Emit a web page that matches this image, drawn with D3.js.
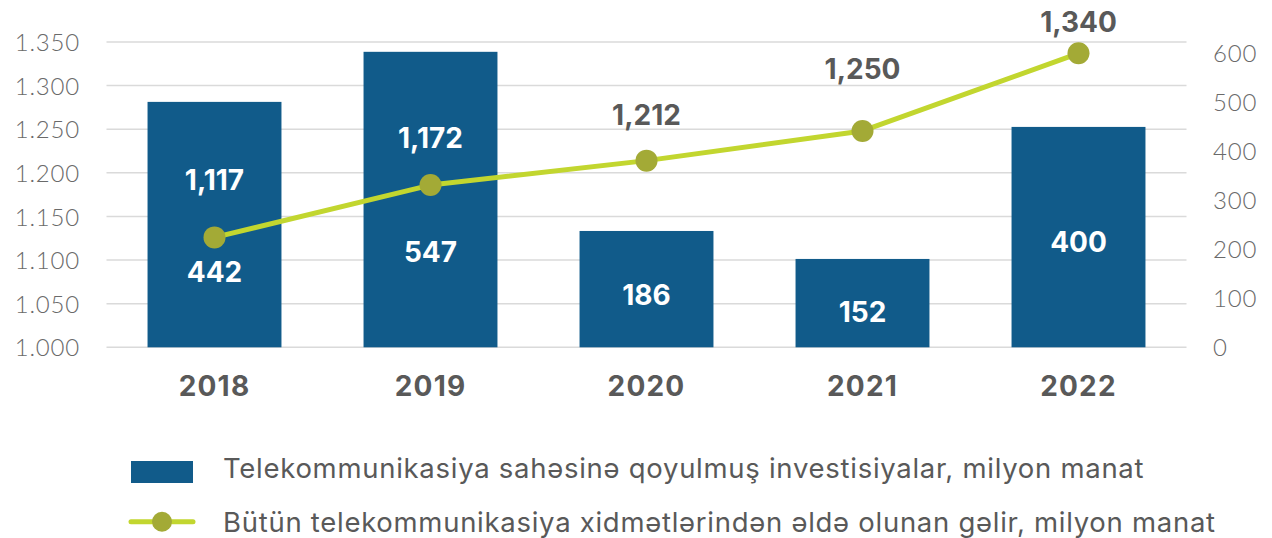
<!DOCTYPE html>
<html>
<head>
<meta charset="utf-8">
<script src="https://cdn.jsdelivr.net/npm/d3@7"></script>
<style>
  html, body { margin: 0; padding: 0; background: #ffffff; }
  svg { display: block; font-family: Inter, "DejaVu Sans", sans-serif; }
</style>
</head>
<body>
<svg id="chart" width="1272" height="538"></svg>
<script>
// ---------------- data ----------------
const years = ["2018", "2019", "2020", "2021", "2022"];
// investments (bars, right axis) – heights as drawn, and their printed labels
const investValues = [500, 602, 237, 180, 449];
const investLabels = ["442", "547", "186", "152", "400"];
// revenue (line, left axis) – positions as drawn, and their printed labels
const revenueValues = [1.126, 1.186, 1.214, 1.248, 1.337];
const revenueLabels = ["1,117", "1,172", "1,212", "1,250", "1,340"];
const leftTicks = [1.000, 1.050, 1.100, 1.150, 1.200, 1.250, 1.300, 1.350];
const rightTicks = [0, 100, 200, 300, 400, 500, 600];
const legendLabels = [
  "Telekommunikasiya sahəsinə qoyulmuş investisiyalar, milyon manat",
  "Bütün telekommunikasiya xidmətlərindən əldə olunan gəlir, milyon manat"
];

// ---------------- layout / style ----------------
const plot = { left: 106.5, right: 1186.5, top: 42, bottom: 347.3 };
const barColor = "#115b8a";
const lineColor = "#c2d62f";
const markerColor = "#a3aa36";
const darkText = "#595959";
const tickText = "#6a6a6a";
const gridColor = "#dadada";
const tickFont = "Lato, 'DejaVu Sans', sans-serif";
const barLabelShift = [47, 52, 6, 8.5, 4.5];
const lineLabelShift = [-57.4, -46.7, -45.6, -62.5, -31.3];

const svg = d3.select("#chart");

const x = d3.scaleBand().domain(years)
  .range([plot.left, plot.right]).paddingInner(0.38).paddingOuter(0.19);
const yL = d3.scaleLinear().domain([1.0, 1.35]).range([plot.bottom, plot.top]);
const yR = d3.scaleLinear().domain([0, 622]).range([plot.bottom, plot.top]);
const cx = d => x(d) + x.bandwidth() / 2;

// gridlines
svg.append("g").selectAll("line").data(leftTicks).join("line")
  .attr("x1", plot.left).attr("x2", plot.right)
  .attr("y1", d => yL(d)).attr("y2", d => yL(d))
  .attr("stroke", gridColor).attr("stroke-width", 1.5);

// left axis
const gL = svg.append("g").attr("transform", "translate(80,0)")
  .call(d3.axisLeft(yL).tickValues(leftTicks).tickFormat(d3.format(".3f")).tickSize(0).tickPadding(0));
gL.select(".domain").remove();
gL.selectAll("text").attr("font-family", tickFont).attr("font-weight", 300)
  .attr("font-size", 24).attr("letter-spacing", 0.8).attr("fill", tickText).attr("dy", "0.36em");

// right axis
const gR = svg.append("g").attr("transform", "translate(1213,0)")
  .call(d3.axisRight(yR).tickValues(rightTicks).tickFormat(d3.format("d")).tickSize(0).tickPadding(0));
gR.select(".domain").remove();
gR.selectAll("text").attr("font-family", tickFont).attr("font-weight", 300)
  .attr("font-size", 24).attr("letter-spacing", 0.8).attr("fill", tickText).attr("dy", "0.36em");

// x axis
const gX = svg.append("g").attr("transform", `translate(0,${plot.bottom})`)
  .call(d3.axisBottom(x).tickSize(0).tickPadding(0));
gX.select(".domain").remove();
gX.selectAll("text").attr("font-family", "Inter, sans-serif").attr("font-weight", 700)
  .attr("font-size", 28).attr("letter-spacing", 1.2).attr("fill", darkText).attr("y", 39).attr("dy", "0.36em");

// bars
svg.append("g").selectAll("rect").data(years).join("rect")
  .attr("x", d => x(d)).attr("width", x.bandwidth())
  .attr("y", (d, i) => yR(investValues[i]))
  .attr("height", (d, i) => yR(0) - yR(investValues[i]))
  .attr("fill", barColor);

// line
const line = d3.line().x((d, i) => cx(years[i])).y(d => yL(d));
svg.append("path").datum(revenueValues)
  .attr("d", line).attr("fill", "none")
  .attr("stroke", lineColor).attr("stroke-width", 5).attr("stroke-linejoin", "round");

svg.append("g").selectAll("circle").data(revenueValues).join("circle")
  .attr("cx", (d, i) => cx(years[i])).attr("cy", d => yL(d)).attr("r", 11)
  .attr("fill", markerColor);

// bar labels
svg.append("g").selectAll("text").data(investLabels).join("text")
  .attr("x", (d, i) => cx(years[i]))
  .attr("y", (d, i) => (yR(investValues[i]) + yR(0)) / 2 + barLabelShift[i])
  .attr("dy", "0.36em").attr("text-anchor", "middle")
  .attr("font-weight", 700).attr("font-size", 28).attr("fill", "#ffffff")
  .text(d => d);

// line labels
svg.append("g").selectAll("text").data(revenueLabels).join("text")
  .attr("x", (d, i) => cx(years[i]))
  .attr("y", (d, i) => yL(revenueValues[i]) + lineLabelShift[i])
  .attr("dy", "0.36em").attr("text-anchor", "middle")
  .attr("font-weight", 700).attr("font-size", 28)
  .attr("fill", (d, i) => {
    const ly = yL(revenueValues[i]) + lineLabelShift[i];
    return ly > yR(investValues[i]) ? "#ffffff" : darkText;
  })
  .text(d => d);

// legend
const lg = svg.append("g");
lg.append("rect").attr("x", 131).attr("y", 461).attr("width", 62).attr("height", 22).attr("fill", barColor);
lg.append("line").attr("x1", 131).attr("x2", 193).attr("y1", 521.7).attr("y2", 521.7)
  .attr("stroke", lineColor).attr("stroke-width", 5).attr("stroke-linecap", "round");
lg.append("circle").attr("cx", 162).attr("cy", 521.7).attr("r", 10).attr("fill", markerColor);
lg.selectAll("text").data(legendLabels).join("text")
  .attr("x", 223).attr("y", (d, i) => i === 0 ? 478.3 : 532.3)
  .attr("font-weight", 400).attr("font-size", 27.5).attr("letter-spacing", 0.72).attr("fill", darkText)
  .text(d => d);
</script>
</body>
</html>
